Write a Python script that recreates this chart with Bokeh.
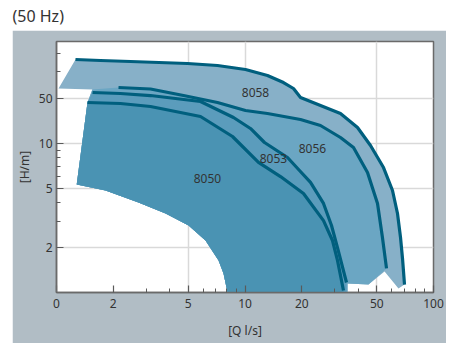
from bokeh.plotting import figure
from bokeh.models import FixedTicker, Label, Range1d
from bokeh.layouts import column
from bokeh.embed import file_html
from bokeh.resources import INLINE
from bokeh.core.properties import value

# ---- data (Q in l/s, H in m) ----
q_8058 = [1.261, 1.712, 2.47, 4.955, 7.146, 10.06, 13.16, 16.0, 18.08, 19.7, 22.26, 25.15,
          32.1, 39.53, 46.33, 54.3, 60.61, 64.42, 66.84, 68.49, 70.19]
h_8058 = [36.36, 35.81, 35.26, 34.19, 33.15, 31.16, 28.41, 25.5, 23.25, 20.24, 19.02, 17.88,
          15.81, 12.74, 9.65, 6.87, 4.82, 3.38, 2.335, 1.69, 1.131]
q_8056 = [2.133, 3.153, 4.718, 7.146, 10.06, 13.16, 19.7, 25.15, 32.1, 37.63, 44.66, 50.47, 53.6, 56.33]
h_8056 = [23.61, 23.07, 20.86, 18.73, 16.56, 15.81, 14.41, 13.14, 10.92, 9.36, 6.36, 3.95, 2.335, 1.45]
q_8053 = [1.553, 2.185, 3.153, 5.807, 8.69, 10.69, 12.69, 16.81, 19.46, 22.26, 26.09, 28.77, 30.95, 34.55]
h_8053 = [21.86, 21.53, 20.86, 19.02, 14.86, 12.55, 10.11, 8.02, 6.56, 5.46, 3.95, 2.81, 2.0, 1.167]
q_8050 = [1.46, 2.185, 3.153, 5.807, 8.585, 11.79, 15.43, 20.43, 26.09, 29.12, 30.95, 33.3]
h_8050 = [18.73, 18.45, 17.61, 15.1, 11.09, 7.43, 5.98, 4.6, 3.03, 2.23, 1.64, 1.031]

# lower limit of the working area (white cut-out)
q_min = [1.28, 1.82, 2.72, 3.79, 5.02, 6.17, 7.24, 7.69, 8.08]
h_min = [5.29, 4.82, 4.01, 3.38, 2.81, 2.23, 1.64, 1.34, 1.0]

# left corners and lower right ends of the areas
q_left_8058 = [1.025]
h_left_8058 = [23.25]
q_left_8056 = [1.55]
h_left_8056 = [22.9]
q_end_8058 = [65.2, 55.0, 45.2, 35.0, 35.0]
h_end_8058 = [1.064, 1.38, 1.13, 1.15, 1.0]
q_end_8056 = [45.2, 35.0, 35.0]
h_end_8056 = [1.13, 1.15, 1.0]
q_end_8053 = [34.55]
h_end_8053 = [1.0]
q_end_8050 = [33.3]
h_end_8050 = [1.0]

names = ["8058", "8056", "8053", "8050"]
label_q = [11.37, 22.8, 14.16, 6.32]
label_h = [21.9, 9.22, 7.9, 5.8]

x_ticks = [1, 2, 5, 10, 20, 50, 100]
x_tick_labels = ["0", "2", "5", "10", "20", "50", "100"]
x_minor = [3, 4, 6, 7, 8, 9, 30, 40, 60, 70, 80, 90]
x_grid = [5, 10, 50]
y_ticks = [2, 5, 10, 20]
y_tick_labels = ["2", "5", "10", "50"]
y_minor = [3, 4, 6, 7, 8, 9, 30, 40]

# ---- styles ----
PANEL = "#b1bdc5"
LINE = "#005f7e"
FILLS = {"8058": "#87b0c8", "8056": "#6ba6c3", "8053": "#5b9cbc", "8050": "#4a93b3"}
FONT = "Noto Sans"
TXT = "#333333"

low_q = list(reversed(q_min))
low_h = list(reversed(h_min))

poly = {
    "8058": (q_left_8058 + q_8058 + q_end_8058 + low_q + [q_8050[0], q_left_8056[0]],
             h_left_8058 + h_8058 + h_end_8058 + low_h + [h_8050[0], h_left_8056[0]]),
    "8056": (q_left_8056 + q_8056 + q_end_8056 + low_q + [q_8050[0]],
             h_left_8056 + h_8056 + h_end_8056 + low_h + [h_8050[0]]),
    "8053": (q_8053 + q_end_8053 + low_q + [q_8050[0]],
             h_8053 + h_end_8053 + low_h + [h_8050[0]]),
    "8050": (q_8050 + q_end_8050 + low_q,
             h_8050 + h_end_8050 + low_h),
}
curves = {"8058": (q_8058, h_8058), "8056": (q_8056, h_8056),
          "8053": (q_8053, h_8053), "8050": (q_8050, h_8050)}

p = figure(width=434, height=313, x_axis_type="log", y_axis_type="log",
           x_range=Range1d(1, 100), y_range=Range1d(1, 48),
           output_backend="svg", toolbar_location=None,
           min_border_left=44, min_border_right=13, min_border_top=11, min_border_bottom=51,
           border_fill_color=PANEL, background_fill_color="white",
           outline_line_color="#6a6a6a", outline_line_width=1.5,
           margin=(0, 0, 0, 12))

for n in names:
    xs, ys = poly[n]
    p.patch(xs, ys, fill_color=FILLS[n], line_color=None)
for n in names:
    xs, ys = curves[n]
    p.line(xs, ys, line_color=LINE, line_width=3.2, line_join="round")

p.text(x=label_q, y=label_h, text=names, text_align="center", text_baseline="middle",
       text_font=value(FONT), text_font_size="12px", text_color=TXT)

for ax, ticks, minor, labels in ((p.xaxis, x_ticks, x_minor, x_tick_labels),
                                 (p.yaxis, y_ticks, y_minor, y_tick_labels)):
    ax.ticker = FixedTicker(ticks=ticks, minor_ticks=minor)
    ax.major_label_overrides = {t: l for t, l in zip(ticks, labels)}
    ax.major_tick_in = 7
    ax.major_tick_out = 0
    ax.minor_tick_in = 4
    ax.minor_tick_out = 0
    ax.major_tick_line_color = "#5a5a5a"
    ax.minor_tick_line_color = "#5a5a5a"
    ax.major_tick_line_width = 1.2
    ax.axis_line_color = "#6a6a6a"
    ax.axis_line_width = 1.5
    ax.major_label_text_font = FONT
    ax.major_label_text_font_size = "12px"
    ax.major_label_text_color = TXT
    ax.axis_label_text_font = FONT
    ax.axis_label_text_font_size = "12px"
    ax.axis_label_text_font_style = "normal"
    ax.axis_label_text_color = TXT

p.xaxis.axis_label = "[Q l/s]"
p.yaxis.axis_label = "[H/m]"
p.xaxis.major_label_standoff = 6
p.xaxis.axis_label_standoff = 11
p.yaxis.major_label_standoff = 4
p.yaxis.axis_label_standoff = 3

p.xgrid.ticker = FixedTicker(ticks=x_grid)
p.ygrid.ticker = FixedTicker(ticks=y_ticks)
p.grid.grid_line_color = "#d9d9d9"
p.grid.grid_line_width = 1.5

t = figure(width=454, height=30, x_range=Range1d(0, 454), y_range=Range1d(0, 30),
           output_backend="svg", toolbar_location=None, min_border=0,
           x_axis_location=None, y_axis_location=None, outline_line_color=None,
           background_fill_color="white", border_fill_color="white")
t.xgrid.visible = False
t.ygrid.visible = False
t.add_layout(Label(x=12, y=15, text="(50 Hz)", text_font=FONT, text_font_size="16px",
                   text_color=TXT, text_baseline="middle"))

for fig in (t, p):
    try:
        fig.frame_align = False
    except Exception:
        pass

layout = column(t, p, spacing=0)
open("out.html", "w").write(file_html(layout, INLINE))
